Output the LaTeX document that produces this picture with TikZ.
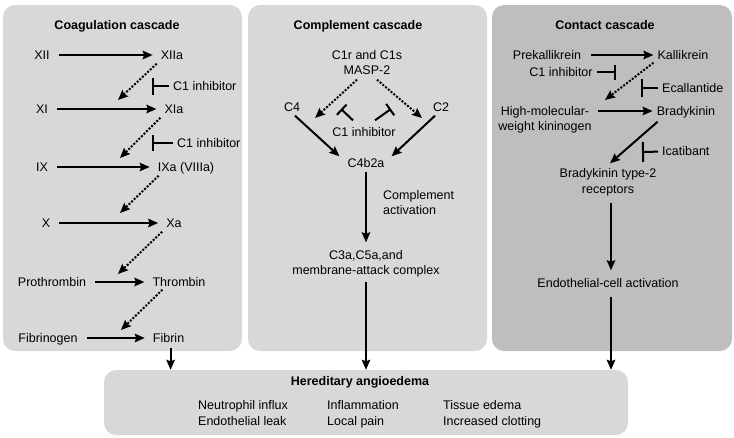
\documentclass[tikz,border=0pt]{standalone}
\usepackage{fontspec}
\setmainfont{Liberation Sans}
\usetikzlibrary{arrows.meta,calc}
\definecolor{panelA}{HTML}{D8D8D8}
\definecolor{panelB}{HTML}{BEBEBE}
\begin{document}
\begin{tikzpicture}[x=1pt,y=-1pt,
  lbl/.style={font=\fontsize{12.5}{15}\selectfont, text height=9pt, text depth=0pt, inner xsep=4pt, inner ysep=4pt},
  ttl/.style={lbl, font=\bfseries\fontsize{12.5}{15}\selectfont},
  arr/.style={line width=2pt, -{Stealth[length=10pt,width=8.5pt,inset=1.5pt]}},
  dotarr/.style={arr, dash pattern=on 2pt off 1.6pt},
  hs/.style={shorten <=5pt, shorten >=4pt},
  inh/.style={line width=2pt, -{Bar[width=#1,line width=2pt]}},
  inh/.default=16pt,
  panel/.style={fill=#1, rounded corners=12pt}
]
\useasboundingbox (0,0) rectangle (734,437);

% panels
\fill[panel=panelA] (3,5) rectangle (242,351);
\fill[panel=panelA] (248,5) rectangle (487,351);
\fill[panel=panelB] (492,5) rectangle (732,351);
\node[panel=panelA, minimum width=524pt, minimum height=65pt, inner sep=0pt] (HAE) at (366,402.5) {};

% ---------- Coagulation cascade ----------
\node[ttl] (t1) at (117,25) {Coagulation cascade};
\node[lbl] (XII) at (42,55) {XII};
\node[lbl] (XIIa) at (172,55) {XIIa};
\node[lbl] (XI) at (42,109) {XI};
\node[lbl] (XIa) at (174,109) {XIa};
\node[lbl] (IX) at (42,167) {IX};
\node[lbl] (IXa) at (186,167) {IXa (VIIIa)};
\node[lbl] (X) at (46,223) {X};
\node[lbl] (Xa) at (174,223) {Xa};
\node[lbl] (Pro) at (52,282) {Prothrombin};
\node[lbl] (Thr) at (179,282) {Thrombin};
\node[lbl] (Fbg) at (48,338) {Fibrinogen};
\node[lbl] (Fbn) at (168.6,338) {Fibrin};
\node[lbl, anchor=west] (ci1) at (169,86) {C1 inhibitor};
\node[lbl, anchor=west] (ci2) at (173,143) {C1 inhibitor};

\draw[arr,hs] (XII) -- (XIIa);
\draw[arr,hs] (XI) -- (XIa);
\draw[arr,hs] (IX) -- (IXa);
\draw[arr,hs] (X) -- (Xa);
\draw[arr,hs] (Pro) -- (Thr);
\draw[arr,hs] (Fbg) -- (Fbn);

\coordinate (k1) at (118,100);
\coordinate (k2) at (120,158);
\coordinate (k3) at (120,213);
\coordinate (k4) at (118,274);
\coordinate (k5) at (121,330);
\draw[dotarr] (XIIa.south west) -- (k1);
\draw[dotarr] (XIa.south west) -- (k2);
\draw[dotarr] ($(IXa.south west)+(5,0)$) -- (k3);
\draw[dotarr] (Xa.south west) -- (k4);
\draw[dotarr] ($(Thr.south west)+(14,-1)$) -- (k5);

\coordinate (b1) at (152,86);
\coordinate (b2) at (152,143);
\draw[inh=17pt] (ci1) -- (b1);
\draw[inh=16pt] (ci2) -- (b2);

\draw[arr] ($(Fbn.south)+(2,1)$) -- ($(Fbn.south |- HAE.north)+(2,0)$);

% ---------- Complement cascade ----------
\node[ttl] (t2) at (358,25) {Complement cascade};
\node[lbl] (C1r) at (367,55) {C1r and C1s};
\node[lbl] (MASP) at (367,70) {MASP-2};
\node[lbl] (C4) at (292,107) {C4};
\node[lbl] (C2) at (441,107) {C2};
\node[lbl] (CI) at (364,132) {C1 inhibitor};
\node[lbl] (C4b2a) at (366,163) {C4b2a};
\node[lbl, anchor=west] (Cact1) at (379,195) {Complement};
\node[lbl, anchor=west] (Cact2) at (379,210) {activation};
\node[lbl] (C3a1) at (366,255) {C3a,C5a,and};
\node[lbl] (C3a2) at (366,270) {membrane-attack complex};

\coordinate (c4t) at (315,118);
\coordinate (c2t) at (422,118);
\draw[dotarr] ($(MASP.south)+(-10,1)$) -- (c4t);
\draw[dotarr] ($(MASP.south)+(10,1)$) -- (c2t);

\coordinate (tb1) at (341,109);
\coordinate (tb2) at (391,109);
\draw[inh=14pt] ($(CI.north)+(-11,-3)$) -- (tb1);
\draw[inh=14pt] ($(CI.north)+(11,-3)$) -- (tb2);

\draw[arr] ($(C4.south)+(3,0)$) -- ($(C4b2a.north west)+(-4,2)$);
\draw[arr] ($(C2.south)+(-6,0)$) -- ($(C4b2a.north east)+(3,2)$);
\draw[arr, shorten >=4pt] (C4b2a) -- (C3a1);
\draw[arr] ($(C3a2.south)+(0,3)$) -- (C3a2 |- HAE.north);

% ---------- Contact cascade ----------
\node[ttl] (t3) at (605,25) {Contact cascade};
\node[lbl] (Pre) at (547,55) {Prekallikrein};
\node[lbl] (Kal) at (683,55) {Kallikrein};
\node[lbl] (ci3) at (561,72) {C1 inhibitor};
\node[lbl, anchor=west] (eca) at (658,88) {Ecallantide};
\node[lbl] (HMWK1) at (545,111) {High-molecular-};
\node[lbl] (HMWK2) at (545,126) {weight kininogen};
\node[lbl] (Brady) at (686,111) {Bradykinin};
\node[lbl, anchor=west] (ica) at (658,151) {Icatibant};
\node[lbl] (BK1) at (608,173) {Bradykinin type-2};
\node[lbl] (BK2) at (608,189) {receptors};
\node[lbl] (Endo) at (608,283) {Endothelial-cell activation};

\draw[arr, shorten <=6pt] (Pre) -- (Kal);
\draw[arr, shorten <=5pt] (HMWK1) -- (Brady);
\coordinate (k6) at (605,100);
\draw[dotarr] ($(Kal.south west)+(0,-1)$) -- (k6);

\coordinate (b3) at (616,72);
\coordinate (b4) at (641,88);
\coordinate (b5) at (642,152);
\draw[inh=15pt] (ci3) -- (b3);
\draw[inh=18pt] (eca) -- (b4);
\draw[inh=20pt] (ica) -- (b5);

\draw[arr] ($(Brady.south west)+(5,2)$) -- ($(BK1.north)+(2,-1)$);
\draw[arr] ($(BK2.south)+(3,5)$) -- ($(Endo.north)+(3,-4)$);
\draw[arr] ($(Endo.south)+(3,5)$) -- ($(Endo.south |- HAE.north)+(3,0)$);

% ---------- Hereditary angioedema ----------
\node[ttl] (haet) at (360,381) {Hereditary angioedema};
\node[lbl, anchor=west] (s11) at (194,405) {Neutrophil influx};
\node[lbl, anchor=west] (s12) at (194,421) {Endothelial leak};
\node[lbl, anchor=west] (s21) at (323,405) {Inflammation};
\node[lbl, anchor=west] (s22) at (323,421) {Local pain};
\node[lbl, anchor=west] (s31) at (439,405) {Tissue edema};
\node[lbl, anchor=west] (s32) at (439,421) {Increased clotting};
\end{tikzpicture}
\end{document}
